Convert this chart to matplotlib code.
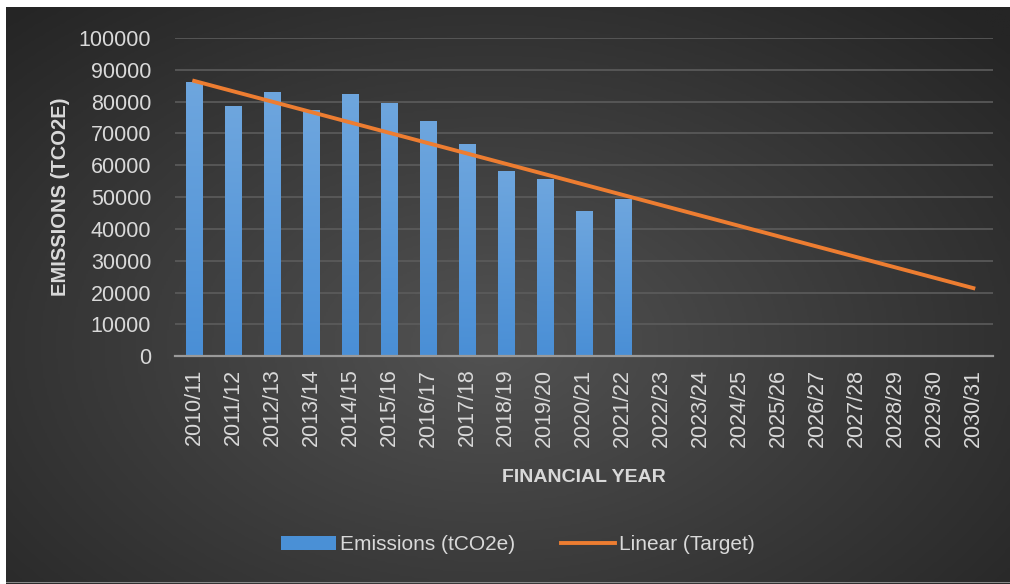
import numpy as np
import matplotlib.pyplot as plt
from matplotlib.colors import LinearSegmentedColormap
from matplotlib.patches import Rectangle

years = ["2010/11", "2011/12", "2012/13", "2013/14", "2014/15", "2015/16", "2016/17",
         "2017/18", "2018/19", "2019/20", "2020/21", "2021/22", "2022/23", "2023/24",
         "2024/25", "2025/26", "2026/27", "2027/28", "2028/29", "2029/30", "2030/31"]
emissions = [86200, 78600, 83000, 77400, 82300, 79700, 74000, 66800, 58200, 55700, 45600, 49400]
target_years = ["2010/11", "2030/31"]
target_values = [86500, 21400]

plt.rcParams['font.family'] = ['Liberation Sans', 'DejaVu Sans']
txt = "#d9d9d9"

fig = plt.figure(figsize=(10.1, 5.84), dpi=100)
fig.patch.set_facecolor("white")

# radial shaded background behind the chart
bg = fig.add_axes([0.006, 0.0, 0.994, 0.988])
yy, xx = np.mgrid[0:300, 0:500]
r = np.sqrt(((xx - 240) / 260.0) ** 2 + ((yy - 175) / 175.0) ** 2)
shade = LinearSegmentedColormap.from_list("shade", ["#525252", "#3b3b3b", "#252525"])
bg.imshow(r, cmap=shade, vmin=0, vmax=1.35, aspect="auto", interpolation="bilinear")
bg.set_axis_off()
fig.add_artist(Rectangle((0.006, 0.002), 0.994, 0.002, transform=fig.transFigure,
                         color="#8a8a8a", lw=0))

ax = fig.add_axes([0.173, 0.39, 0.810, 0.545])
ax.set_facecolor("none")
x = np.arange(len(years))

bars = ax.bar(x[:len(emissions)], emissions, width=0.42, color="#4a90d6", zorder=2,
              label="Emissions (tCO2e)")
# light-to-dark vertical fill on each bar
blue = LinearSegmentedColormap.from_list("blue", ["#4a8fd6", "#6ea6de"])
grad = np.linspace(0, 1, 100).reshape(-1, 1)
for b in bars:
    x0, y0, w, h = b.get_x(), b.get_y(), b.get_width(), b.get_height()
    im = ax.imshow(grad, cmap=blue, origin="lower", aspect="auto",
                   extent=(x0, x0 + w, y0, y0 + h), zorder=2.1)
    im.set_clip_path(b)

tx = [years.index(t) for t in target_years]
line, = ax.plot(tx, target_values, color="#ed7d31", lw=2.8, zorder=3, label="Linear (Target)")

ax.set_xlim(-0.5, len(years) - 0.5)
ax.set_ylim(0, 100000)
ax.set_yticks(np.arange(0, 100001, 10000))
ax.yaxis.grid(True, color="#5c5c5c", lw=1.2)
ax.set_axisbelow(True)
ax.set_xticks(x)
ax.set_xticklabels(years, rotation=90)
ax.tick_params(axis="both", length=0, colors=txt, labelsize=15.5)
ax.tick_params(axis="x", pad=9)
ax.tick_params(axis="y", pad=17)
for s in ["top", "right", "left"]:
    ax.spines[s].set_visible(False)
ax.spines["bottom"].set_color("#9a9a9a")
ax.spines["bottom"].set_linewidth(1.6)

ax.set_ylabel("EMISSIONS (TCO2E)", color=txt, fontsize=14.5, fontweight="bold", labelpad=6)
ax.set_xlabel("FINANCIAL YEAR", color=txt, fontsize=14, fontweight="bold", labelpad=16)

leg = fig.legend([bars, line], ["Emissions (tCO2e)", "Linear (Target)"], loc="center",
                 bbox_to_anchor=(0.513, 0.067), ncol=2, frameon=False, fontsize=15,
                 handlelength=2.6, handleheight=0.6, columnspacing=2.2, handletextpad=0.2)
for t in leg.get_texts():
    t.set_color(txt)

fig.savefig("out.png", dpi=100, facecolor=fig.get_facecolor())
